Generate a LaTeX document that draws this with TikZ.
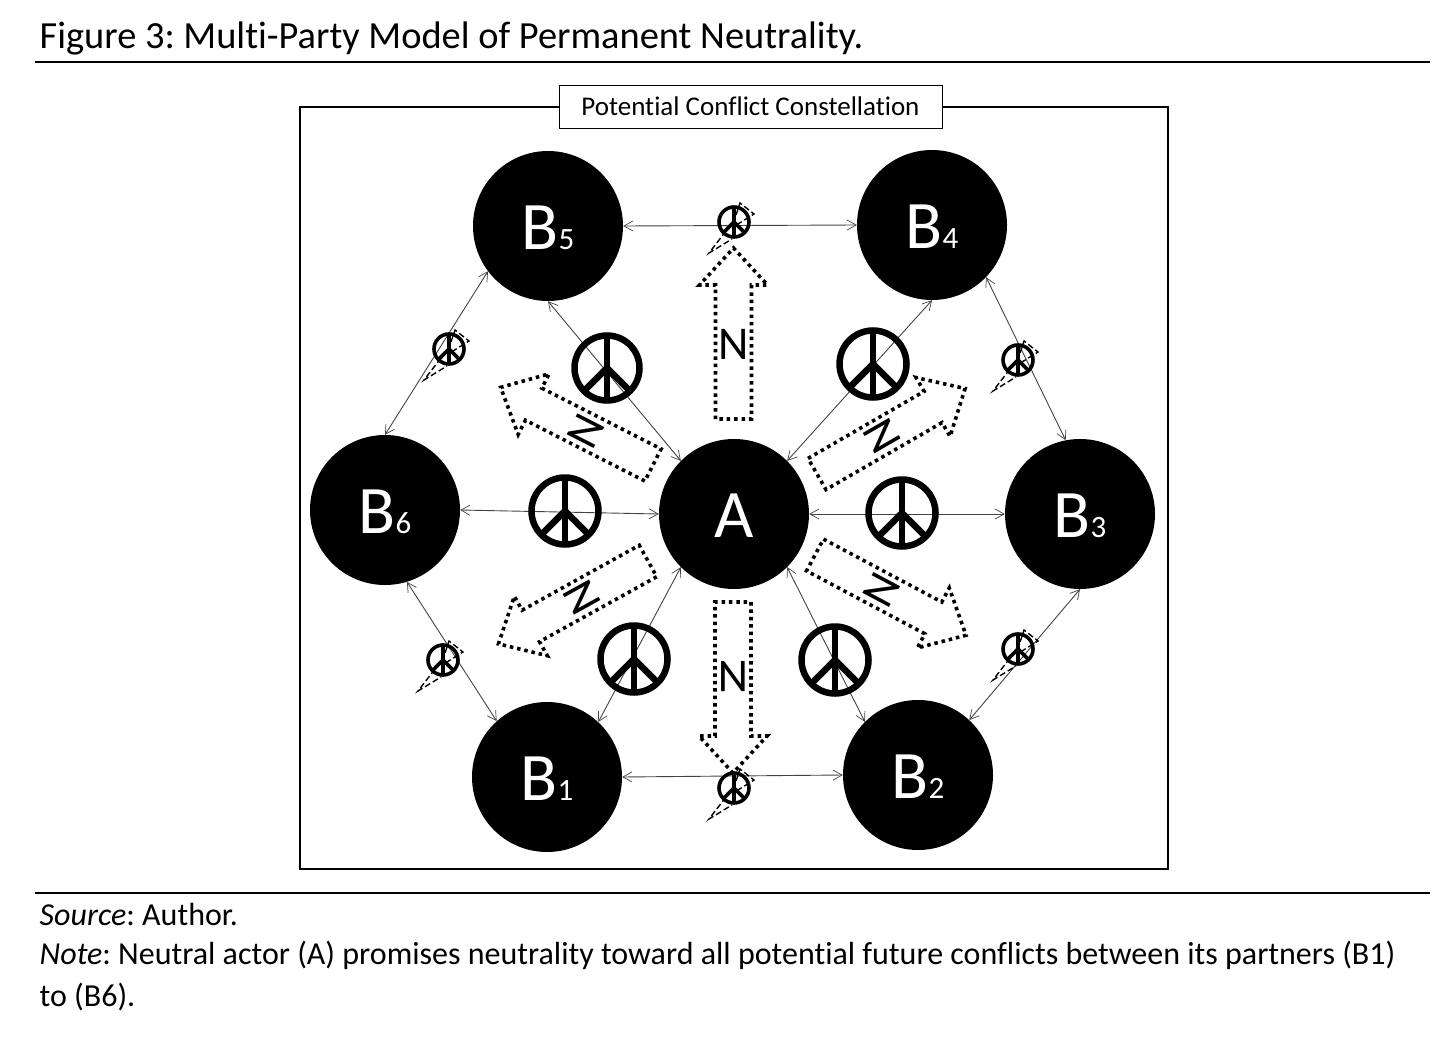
\documentclass[tikz,border=0pt]{standalone}
\usepackage{fontspec}
\setmainfont{Carlito}[Ligatures=NoCommon]
\frenchspacing
\usetikzlibrary{arrows.meta}
\definecolor{linkgray}{HTML}{444444}
\newcommand{\px}[1]{\fontsize{#1}{#1}\selectfont}
\newcommand{\actortext}[1]{\raisebox{-23.5pt}[0pt][0pt]{#1}}
\newcommand{\Bn}[1]{\actortext{\px{68}B\px{31}#1}}
\tikzset{
  x=1pt,y=-1pt,
  actor/.style={circle,fill=black,text=white,minimum size=150pt,inner sep=0pt,font=\px{68}},
  link/.style={draw=linkgray,line width=0.9pt,{Straight Barb[length=9pt,width=10pt,line width=0.7pt]}-{Straight Barb[length=9pt,width=10pt,line width=0.7pt]}},
  rule/.style={line width=1.3pt,black},
  dotline/.style={draw=black,line width=3.6pt,dash pattern=on 3.5pt off 3.9pt},
  nlabel/.style={font=\px{47},transform shape,inner sep=0pt},
  bolt/.style={line width=1.4pt,dash pattern=on 6pt off 3pt,black},
  txt/.style={anchor=base west,inner sep=0pt,font=\px{32}}
}
% big peace sign: centre x,y ; radius ; line width
\newcommand{\peace}[4]{%
  \begin{scope}[shift={(#1,#2)}]
    \draw[line width=#4pt] (0,0) circle[radius=#3pt];
    \draw[line width=#4pt,line cap=butt] (0,-#3) -- (0,#3);
    \draw[line width=#4pt,line cap=butt] (-0.7071*#3,0.7071*#3) -- (0,0) -- (0.7071*#3,0.7071*#3);
  \end{scope}}
% small peace sign with dashed lightning outline
\newcommand{\smallpeace}[2]{%
  \peace{#1}{#2}{15}{3.6}
  \begin{scope}[shift={(#1,#2)}]
    \draw[bolt] (2,-7) -- (6,-19) -- (20,-8) -- (4,2);
    \draw[bolt] (-8,9) -- (-25,31) -- (-2,17);
  \end{scope}}
% neutrality arrow: name, base centre x,y, rotation
\newcommand{\narrow}[4]{%
  \begin{scope}[shift={(#2,#3)},rotate=#4]
    \draw[dotline] (-18,0) -- (-18,-134) -- (-34,-134) -- (0,-171) -- (34,-134) -- (18,-134) -- (18,0) -- cycle;
    \node[nlabel] (#1) at (0,-75) {N};
  \end{scope}}
\begin{document}
\begin{tikzpicture}
\useasboundingbox (0,0) rectangle (1456,1049);
\fill[white] (0,0) rectangle (1456,1049);

\node[anchor=base west,inner sep=0pt,font=\px{38.4}] (title) at (39.5,48.5) {Figure 3: Multi-Party Model of Permanent Neutrality.};
\coordinate (r1a) at (35,62); \coordinate (r1b) at (1430,62);
\draw[rule] (r1a) -- (r1b);
\coordinate (r2a) at (35,893); \coordinate (r2b) at (1430,893);
\draw[rule] (r2a) -- (r2b);

\draw[line width=1.5pt] (300,107) rectangle (1168,869);
\node[draw=black,line width=0.9pt,fill=white,minimum width=383pt,minimum height=43pt,inner sep=0pt,font=\px{27}] (frame) at (750.5,106.5) {Potential Conflict Constellation};

\node[actor] (A)  at (734,514) {\actortext{A}};
\node[actor] (B1) at (547,777) {\Bn{1}};
\node[actor] (B2) at (918,775) {\Bn{2}};
\node[actor] (B3) at (1080,514) {\Bn{3}};
\node[actor] (B4) at (932,225) {\Bn{4}};
\node[actor] (B5) at (548,226) {\Bn{5}};
\node[actor] (B6) at (385,510) {\Bn{6}};

\draw[link] (B5.east) -- (B4.west);
\draw[link] (B1.east) -- (B2.west);
\draw[link] (B5.217) -- (B6.north);
\draw[link] (B4.-44) -- (B3.101);
\draw[link] (B3.south) -- (B2.47);
\draw[link] (B6.-73) -- (B1.132);
\draw[link] (B5.south) -- (A.135);
\draw[link] (B4.south) -- (A.45);
\draw[link] (B1.47) -- (A.225);
\draw[link] (B2.135) -- (A.-45);
\draw[link] (B6.east) -- (A.west);
\draw[link] (A.east) -- (B3.west);

\narrow{n1}{733.5}{419}{0}
\narrow{n2}{733}{602}{180}
\narrow{n3}{653}{465}{63}
\narrow{n4}{817}{474}{-60}
\narrow{n5}{648}{561}{119}
\narrow{n6}{815}{555}{-118}

\peace{607}{368}{32.5}{6.5}
\peace{873}{364}{33.5}{6.5}
\peace{565}{511}{33.5}{6.5}
\peace{902}{513}{33.5}{6.5}
\peace{634}{659}{33.5}{6.5}
\peace{835}{660}{33.5}{6.5}

\smallpeace{734}{222}
\smallpeace{449}{349}
\smallpeace{1018}{360}
\smallpeace{443}{660}
\smallpeace{1018}{649}
\smallpeace{734}{788}

\node[txt] (src) at (39.5,925) {\textit{Source}: Author.};
\node[txt] (note1) at (39.5,964) {\textit{Note}: Neutral actor (A) promises neutrality toward all potential future conflicts between its partners (B1)};
\node[txt] (note2) at (39.5,1006) {to (B6).};
\end{tikzpicture}
\end{document}
